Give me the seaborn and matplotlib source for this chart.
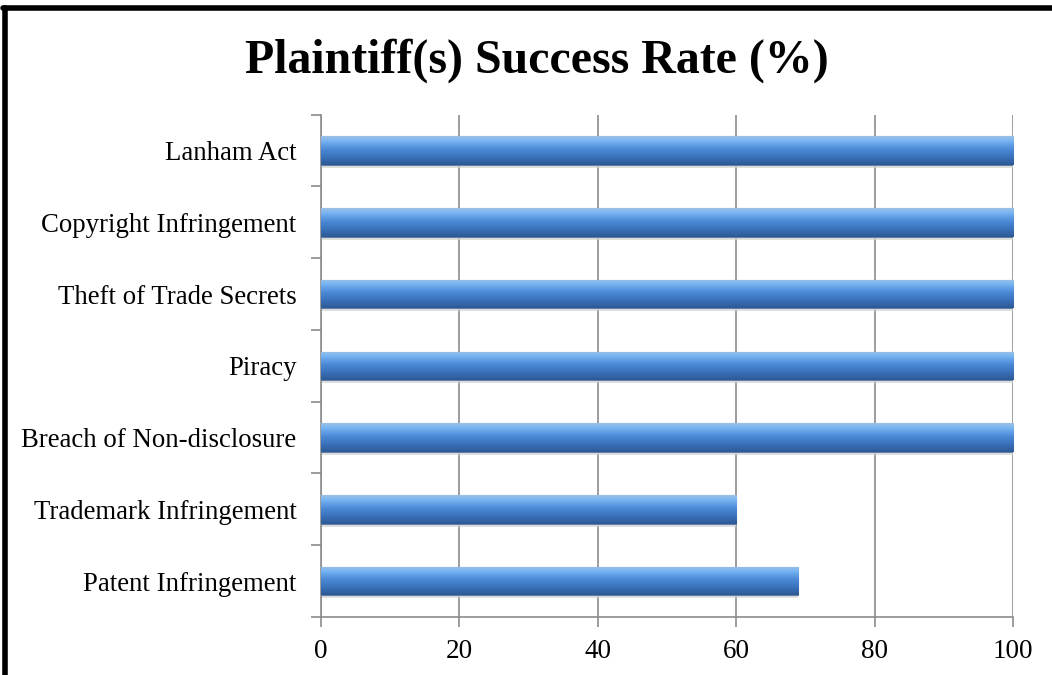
import numpy as np
import pandas as pd
import matplotlib.pyplot as plt
import seaborn as sns
from matplotlib.colors import LinearSegmentedColormap
from matplotlib.lines import Line2D

categories = ['Lanham Act', 'Copyright Infringement', 'Theft of Trade Secrets',
              'Piracy', 'Breach of Non-disclosure', 'Trademark Infringement',
              'Patent Infringement']
success_rate = [100, 100, 100, 100, 100, 60, 69]
x_ticks = [0, 20, 40, 60, 80, 100]

df = pd.DataFrame({'category': categories, 'rate': success_rate})

sns.set_style('white')
plt.rcParams['font.family'] = ['Liberation Serif', 'DejaVu Serif']
plt.rcParams['text.color'] = 'black'
plt.rcParams['xtick.color'] = 'black'
plt.rcParams['ytick.color'] = 'black'

fig = plt.figure(figsize=(10.52, 6.75), dpi=100)
ax = fig.add_axes([0.305, 0.086, 0.658, 0.744])

sns.barplot(data=df, x='rate', y='category', order=categories, orient='h',
            color='#4a83cc', width=0.4, edgecolor='#5f7fa6', linewidth=0.8,
            ax=ax, zorder=3)

# gradient fill on each bar (light on top, dark at the bottom)
cmap = LinearSegmentedColormap.from_list(
    'bar', ['#9cc0e6', '#78b4f2', '#5c9ae2', '#4885d2', '#3e77c2',
            '#3568ad', '#2c5a93'])
grad = np.linspace(0, 1, 64).reshape(-1, 1)
for p in ax.patches:
    x0, y0 = p.get_x(), p.get_y()
    w, h = p.get_width(), p.get_height()
    # soft shadow under the bar
    ax.fill_between([x0, x0 + w], y0 + h, y0 + h + 0.04, color='#d4d4d4',
                    alpha=0.7, zorder=2, linewidth=0)
    im = ax.imshow(grad, cmap=cmap, aspect='auto',
                   extent=[x0, x0 + w, y0 + h, y0], origin='upper', zorder=3.5)
    im.set_clip_path(p)

ax.set_xlim(0, 100)
ax.set_ylim(len(categories) - 0.5, -0.5)
ax.set_xticks(x_ticks)
ax.set_xticklabels([str(t) for t in x_ticks])
ax.set_xlabel('')
ax.set_ylabel('')

ax.grid(axis='x', color='#8c8c8c', linewidth=1.2, zorder=0)
ax.set_axisbelow(True)
for side in ['top', 'right']:
    ax.spines[side].set_visible(False)
for side in ['left', 'bottom']:
    ax.spines[side].set_color('#8c8c8c')
    ax.spines[side].set_linewidth(1.2)

ax.set_yticks(np.arange(len(categories) + 1) - 0.5, minor=True)
ax.tick_params(axis='y', which='major', length=0, pad=17.5, labelsize=19.3)
ax.tick_params(axis='y', which='minor', length=7, width=1.2, color='#8c8c8c',
               direction='out')
ax.tick_params(axis='x', length=7, width=1.2, color='#8c8c8c',
               direction='out', pad=9, labelsize=19.5)
ax.tick_params(left=True, bottom=True, which='both')
ax.tick_params(axis='y', which='major', left=False)

fig.suptitle('Plaintiff(s) Success Rate (%)', x=0.51, y=0.943,
             fontsize=34.5, fontweight='bold', va='top')

# chart frame (top and left edges)
fig.add_artist(Line2D([0.005, 0.005], [0.0, 0.988], color='black',
                      linewidth=4, transform=fig.transFigure))
fig.add_artist(Line2D([0.003, 1.0], [0.988, 0.988], color='black',
                      linewidth=4, transform=fig.transFigure))

fig.savefig('out.png', dpi=100, facecolor='white')
